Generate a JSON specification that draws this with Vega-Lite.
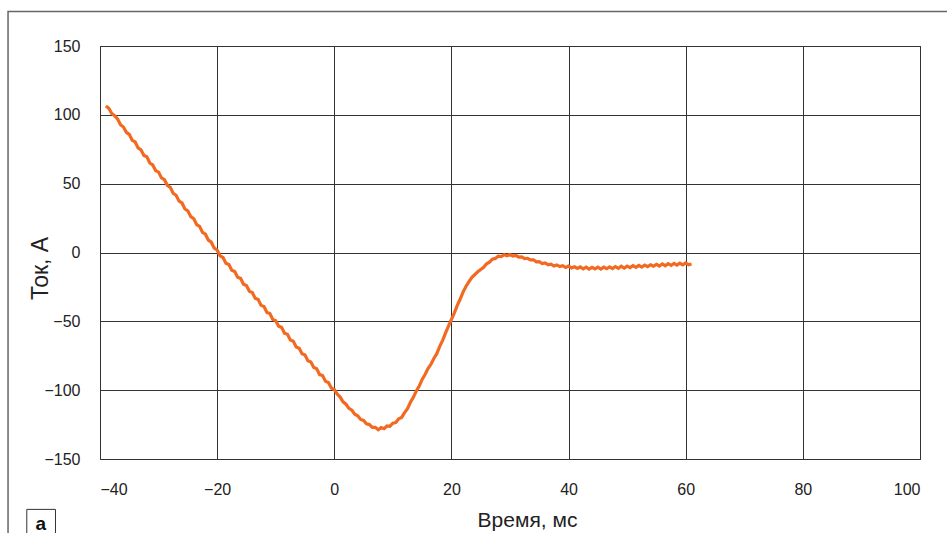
{
  "$schema": "https://vega.github.io/schema/vega-lite/v6.json",
  "width": 820,
  "height": 413,
  "autosize": "none",
  "padding": {"left": 100, "top": 46, "right": 27, "bottom": 74},
  "background": "white",
  "config": {"font": "Liberation Sans", "view": {"stroke": "#333", "strokeWidth": 1}},
  "datasets": {
    "current": [
      {"t": -39, "i": 106.5}, {"t": -38.5, "i": 104.8}, {"t": -38, "i": 101.0}, {"t": -37.5, "i": 99.3},
      {"t": -37, "i": 97.0}, {"t": -36.5, "i": 92.8}, {"t": -36, "i": 91.2}, {"t": -35.5, "i": 87.3},
      {"t": -35, "i": 85.8}, {"t": -34.5, "i": 81.5}, {"t": -34, "i": 80.3}, {"t": -33.5, "i": 76.0},
      {"t": -33, "i": 74.6}, {"t": -32.5, "i": 70.5}, {"t": -32, "i": 69.5}, {"t": -31.5, "i": 65.0},
      {"t": -31, "i": 63.6}, {"t": -30.5, "i": 59.5}, {"t": -30, "i": 58.4}, {"t": -29.5, "i": 54.2},
      {"t": -29, "i": 52.9}, {"t": -28.5, "i": 48.8}, {"t": -28, "i": 47.3}, {"t": -27.5, "i": 43.0},
      {"t": -27, "i": 41.6}, {"t": -26.5, "i": 37.3}, {"t": -26, "i": 36.0}, {"t": -25.5, "i": 31.6},
      {"t": -25, "i": 30.3}, {"t": -24.5, "i": 26.0}, {"t": -24, "i": 24.6}, {"t": -23.5, "i": 20.3},
      {"t": -23, "i": 19.0}, {"t": -22.5, "i": 14.6}, {"t": -22, "i": 13.3}, {"t": -21.5, "i": 9.0},
      {"t": -21, "i": 7.5}, {"t": -20.5, "i": 3.2}, {"t": -20, "i": 1.8}, {"t": -19.5, "i": -2.5},
      {"t": -19, "i": -3.6}, {"t": -18.5, "i": -7.8}, {"t": -18, "i": -8.7}, {"t": -17.5, "i": -12.9},
      {"t": -17, "i": -13.8}, {"t": -16.5, "i": -18.0}, {"t": -16, "i": -18.8}, {"t": -15.5, "i": -23.1},
      {"t": -15, "i": -24.0}, {"t": -14.5, "i": -28.2}, {"t": -14, "i": -29.0}, {"t": -13.5, "i": -33.3},
      {"t": -13, "i": -34.2}, {"t": -12.5, "i": -38.4}, {"t": -12, "i": -39.3}, {"t": -11.5, "i": -43.5},
      {"t": -11, "i": -44.3}, {"t": -10.5, "i": -48.6}, {"t": -10, "i": -49.5}, {"t": -9.5, "i": -53.6},
      {"t": -9, "i": -54.4}, {"t": -8.5, "i": -58.7}, {"t": -8, "i": -59.4}, {"t": -7.5, "i": -63.6},
      {"t": -7, "i": -64.4}, {"t": -6.5, "i": -68.7}, {"t": -6, "i": -69.5}, {"t": -5.5, "i": -73.6},
      {"t": -5, "i": -74.4}, {"t": -4.5, "i": -78.7}, {"t": -4, "i": -79.5}, {"t": -3.5, "i": -83.6},
      {"t": -3, "i": -84.4}, {"t": -2.5, "i": -88.7}, {"t": -2, "i": -89.4}, {"t": -1.5, "i": -93.6},
      {"t": -1, "i": -94.5}, {"t": -0.5, "i": -98.5}, {"t": 0, "i": -99.5}, {"t": 0.5, "i": -102.8},
      {"t": 1, "i": -105.0}, {"t": 1.5, "i": -108.5}, {"t": 2, "i": -110.2}, {"t": 2.5, "i": -113.2},
      {"t": 3, "i": -114.6}, {"t": 3.5, "i": -117.5}, {"t": 4, "i": -118.6}, {"t": 4.5, "i": -121.3},
      {"t": 5, "i": -122.0}, {"t": 5.5, "i": -124.5}, {"t": 6, "i": -125.0}, {"t": 6.5, "i": -127.0},
      {"t": 7, "i": -127.0}, {"t": 7.5, "i": -128.8}, {"t": 8, "i": -127.2}, {"t": 8.5, "i": -128.0},
      {"t": 9, "i": -126.0}, {"t": 9.5, "i": -126.2}, {"t": 10, "i": -124.0}, {"t": 10.5, "i": -123.5},
      {"t": 11, "i": -120.8}, {"t": 11.5, "i": -119.8}, {"t": 12, "i": -116.3}, {"t": 12.5, "i": -113.5},
      {"t": 13, "i": -108.8}, {"t": 13.5, "i": -105.2}, {"t": 14, "i": -100.6}, {"t": 14.5, "i": -97.0},
      {"t": 15, "i": -92.2}, {"t": 15.5, "i": -88.6}, {"t": 16, "i": -84.3}, {"t": 16.5, "i": -81.2},
      {"t": 17, "i": -77.0}, {"t": 17.5, "i": -73.5}, {"t": 18, "i": -68.2}, {"t": 18.5, "i": -63.8},
      {"t": 19, "i": -58.4}, {"t": 19.5, "i": -53.5}, {"t": 20, "i": -48.6}, {"t": 20.5, "i": -43.8},
      {"t": 21, "i": -38.4}, {"t": 21.5, "i": -33.8}, {"t": 22, "i": -28.6}, {"t": 22.5, "i": -24.5},
      {"t": 23, "i": -21.2}, {"t": 23.5, "i": -18.0}, {"t": 24, "i": -16.0}, {"t": 24.5, "i": -14.0},
      {"t": 25, "i": -12.3}, {"t": 25.5, "i": -10.8}, {"t": 26, "i": -8.2}, {"t": 26.5, "i": -7.0},
      {"t": 27, "i": -4.8}, {"t": 27.5, "i": -4.3}, {"t": 28, "i": -2.6}, {"t": 28.5, "i": -2.9},
      {"t": 29, "i": -1.6}, {"t": 29.5, "i": -2.4}, {"t": 30, "i": -1.5}, {"t": 30.5, "i": -2.6},
      {"t": 31, "i": -2.2}, {"t": 31.5, "i": -3.3}, {"t": 32, "i": -3.2}, {"t": 32.5, "i": -4.4},
      {"t": 33, "i": -4.2}, {"t": 33.5, "i": -5.4}, {"t": 34, "i": -5.3}, {"t": 34.5, "i": -6.8},
      {"t": 35, "i": -6.6}, {"t": 35.5, "i": -8.0}, {"t": 36, "i": -7.6}, {"t": 36.5, "i": -9.0},
      {"t": 37, "i": -8.5}, {"t": 37.5, "i": -9.8}, {"t": 38, "i": -9.0}, {"t": 38.5, "i": -10.2},
      {"t": 39, "i": -9.6}, {"t": 39.5, "i": -10.9}, {"t": 40, "i": -9.9}, {"t": 40.5, "i": -11.2},
      {"t": 41, "i": -10.3}, {"t": 41.5, "i": -11.6}, {"t": 42, "i": -10.5}, {"t": 42.5, "i": -11.9},
      {"t": 43, "i": -10.6}, {"t": 43.5, "i": -12.0}, {"t": 44, "i": -10.8}, {"t": 44.5, "i": -11.9},
      {"t": 45, "i": -10.7}, {"t": 45.5, "i": -12.0}, {"t": 46, "i": -10.6}, {"t": 46.5, "i": -11.8},
      {"t": 47, "i": -10.5}, {"t": 47.5, "i": -11.7}, {"t": 48, "i": -10.2}, {"t": 48.5, "i": -11.5},
      {"t": 49, "i": -10.0}, {"t": 49.5, "i": -11.3}, {"t": 50, "i": -9.9}, {"t": 50.5, "i": -11.0},
      {"t": 51, "i": -9.6}, {"t": 51.5, "i": -10.8}, {"t": 52, "i": -9.4}, {"t": 52.5, "i": -10.6},
      {"t": 53, "i": -9.1}, {"t": 53.5, "i": -10.3}, {"t": 54, "i": -8.9}, {"t": 54.5, "i": -10.0},
      {"t": 55, "i": -8.6}, {"t": 55.5, "i": -9.8}, {"t": 56, "i": -8.3}, {"t": 56.5, "i": -9.6},
      {"t": 57, "i": -8.1}, {"t": 57.5, "i": -9.4}, {"t": 58, "i": -7.9}, {"t": 58.5, "i": -9.2},
      {"t": 59, "i": -7.8}, {"t": 59.5, "i": -9.0}, {"t": 60, "i": -7.6}, {"t": 60.5, "i": -8.9},
      {"t": 61, "i": -8.4}
    ]
  },
  "layer": [
    {
      "data": {"name": "current"},
      "mark": {"type": "line", "color": "#F26A21", "strokeWidth": 3.2, "interpolate": "linear"},
      "encoding": {
        "x": {
          "field": "t", "type": "quantitative",
          "scale": {"domain": [-40, 100], "nice": false, "zero": false},
          "axis": {
            "title": "Время, мс", "values": [-40, -20, 0, 20, 40, 60, 80, 100],
            "grid": true, "gridColor": "#333", "gridOpacity": 1, "gridWidth": 1,
            "ticks": false, "domain": false,
            "labelPadding": 22, "labelFontSize": 16, "labelColor": "#222",
            "titleFontSize": 21, "titleFontWeight": "normal", "titleColor": "#222",
            "titleX": 427, "titleY": 67, "titleBaseline": "alphabetic", "titleAnchor": "middle", "titleAlign": "center"
          }
        },
        "y": {
          "field": "i", "type": "quantitative",
          "scale": {"domain": [-150, 150], "nice": false, "zero": false},
          "axis": {
            "title": "Ток, А", "values": [-150, -100, -50, 0, 50, 100, 150],
            "grid": true, "gridColor": "#333", "gridOpacity": 1, "gridWidth": 1,
            "ticks": false, "domain": false,
            "labelPadding": 20, "labelFontSize": 16, "labelColor": "#222",
            "titleFontSize": 23, "titleFontWeight": "normal", "titleColor": "#222",
            "titleX": -53, "titleY": 222, "titleBaseline": "alphabetic", "titleAngle": -90, "titleAlign": "center"
          }
        }
      }
    },
    {
      "data": {"values": [{}]},
      "mark": {"type": "rect", "fill": null, "stroke": "#666", "strokeWidth": 1.5, "clip": false},
      "encoding": {
        "x": {"datum": -55.7, "type": "quantitative"},
        "x2": {"datum": 110},
        "y": {"datum": 175, "type": "quantitative"},
        "y2": {"datum": -220}
      }
    },
    {
      "data": {"values": [{}]},
      "mark": {"type": "rect", "fill": "white", "stroke": "#333", "strokeWidth": 1, "clip": false},
      "encoding": {
        "x": {"datum": -52.5, "type": "quantitative"},
        "x2": {"datum": -47.6},
        "y": {"datum": -186.6, "type": "quantitative"},
        "y2": {"datum": -220}
      }
    },
    {
      "data": {"values": [{}]},
      "mark": {"type": "text", "text": "a", "fontSize": 19, "fontWeight": "bold", "color": "#111", "align": "center", "baseline": "alphabetic", "clip": false},
      "encoding": {
        "x": {"datum": -50.1, "type": "quantitative"},
        "y": {"datum": -201.5, "type": "quantitative"}
      }
    }
  ]
}
